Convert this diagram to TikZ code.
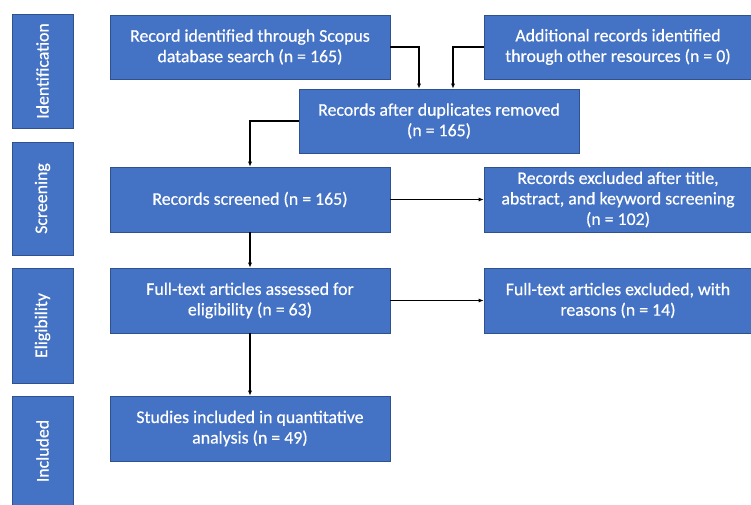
\documentclass[tikz,border=0pt]{standalone}
\usepackage{fontspec}
\setmainfont{Carlito}
\newfontfamily\boxfont{Carlito}[FakeBold=0.5]
\usepackage{tikz}
\usetikzlibrary{arrows.meta,calc}
\definecolor{prismablue}{HTML}{4472C4}
\definecolor{prismaedge}{HTML}{2F528F}

\begin{document}
\begin{tikzpicture}[x=1pt,y=-1pt,
  box/.style={draw=prismaedge,line width=0.6pt,fill=prismablue,text=white,
    align=center,inner sep=2pt,font=\boxfont\fontsize{17.8}{20.5}\selectfont},
  mainbox/.style={box,minimum width=280pt,minimum height=64pt},
  flow/.style={-{Latex[length=5pt,width=4pt]},line width=1.4pt}]
\useasboundingbox (0,0) rectangle (751,504);

% phases
\node[box,minimum width=114pt,minimum height=61pt,rotate=90] (idph) at (42.5,71) {Identification};
\node[box,minimum width=113pt,minimum height=61pt,rotate=90] (scph) at (42.5,198.5) {Screening};
\node[box,minimum width=115pt,minimum height=61pt,rotate=90] (elph) at (42.5,325.5) {Eligibility};
\node[box,minimum width=110pt,minimum height=61pt,rotate=90] (inph) at (42.5,451) {Included};

% records
\node[mainbox] (scopus) at (250,47) {Record identified through Scopus\\database search (n = 165)};
\node[mainbox,minimum width=268pt] (other) at (618,47) {Additional records identified\\through other resources (n = 0)};
\node[mainbox] (dupl) at (439,121) {Records after duplicates removed\\(n = 165)};
\node[mainbox,minimum height=65pt] (screen) at (250,199.5) {Records screened (n = 165)};
\node[mainbox,minimum width=268pt,minimum height=65pt] (excl) at (618,199.5) {Records excluded after title,\\abstract, and keyword screening\\(n = 102)};
\node[mainbox,minimum height=65pt] (full) at (250,300.5) {Full-text articles assessed for\\eligibility (n = 63)};
\node[mainbox,minimum width=268pt,minimum height=65pt] (fullex) at (618,300.5) {Full-text articles excluded, with\\reasons (n = 14)};
\node[mainbox,minimum height=65pt] (incl) at (250,428.5) {Studies included in quantitative\\analysis (n = 49)};

% arrows
\draw[flow] (scopus.east) -| ([xshift=-20pt]dupl.north);
\draw[flow] (other.west) -| ([xshift=14pt]dupl.north);
\draw[flow] (dupl.west) -| (screen.north);
\draw[flow] (screen) -- (excl);
\draw[flow] (screen) -- (full);
\draw[flow] (full) -- (fullex);
\draw[flow] (full) -- (incl);
\end{tikzpicture}
\end{document}
